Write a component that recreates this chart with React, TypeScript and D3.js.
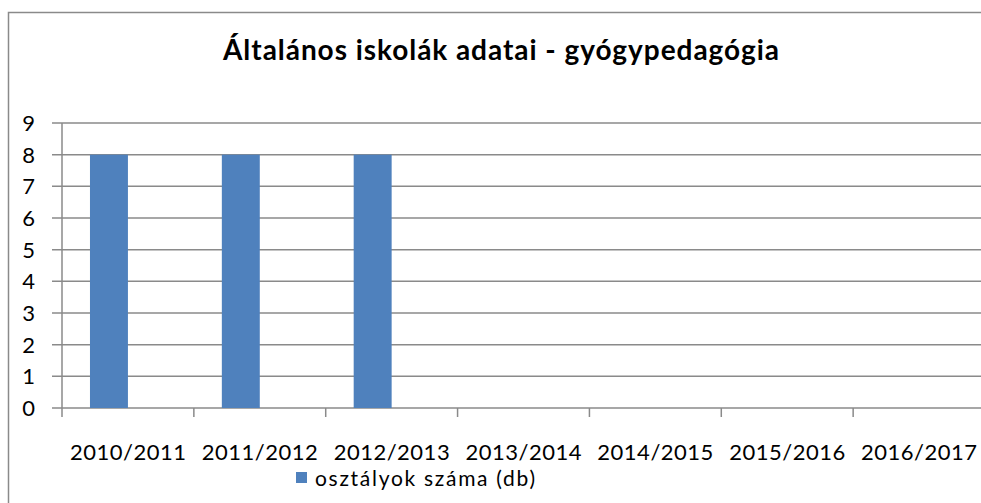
import React from "react";
import * as d3 from "d3";

const title = "Általános iskolák adatai - gyógypedagógia";
const categories = ["2010/2011", "2011/2012", "2012/2013", "2013/2014", "2014/2015", "2015/2016", "2016/2017"];
const seriesName = "osztályok száma (db)";
const seriesValues: (number | null)[] = [8, 8, 8, null, null, null, null];
const slots = ["osztályok", "second"];
const yTicks = [0, 1, 2, 3, 4, 5, 6, 7, 8, 9];

const W = 981;
const H = 503;
const FONT = "Lato, 'Open Sans', sans-serif";

export default function App() {
  const left = 62;
  const right = 985;
  const top = 123;
  const bottom = 408;
  const x0 = d3.scaleBand<string>().domain(categories).range([left, right]).padding(0);
  const x1 = d3.scaleBand<string>().domain(slots).range([0, x0.bandwidth()]).paddingInner(0).paddingOuter(0.737);
  const y = d3.scaleLinear().domain([0, 9]).range([bottom, top]);
  const grid = "#8a8a8a";
  return (
    <svg width={W} height={H} style={{ position: "absolute", left: 0, top: 0, display: "block" }}>
      <rect x={0} y={0} width={W} height={H} fill="#fff" />
      <rect x={8.5} y={12.5} width={1100} height={600} fill="none" stroke={grid} strokeWidth={1.5} />
      <text x={501} y={60} textAnchor="middle" fontFamily={FONT} fontWeight="bold" fontSize={28} fill="#000"
        textLength={556} lengthAdjust="spacing">{title}</text>
      {yTicks.map((t) => (
        <g key={t}>
          <line x1={52} x2={W} y1={y(t)} y2={y(t)} stroke={grid} strokeWidth={1.5} />
          <text x={35} y={y(t) + 8} textAnchor="end" fontFamily={FONT} fontSize={22} fill="#000">{t}</text>
        </g>
      ))}
      <line x1={left} x2={left} y1={top} y2={bottom} stroke={grid} strokeWidth={1.5} />
      {categories.map((c) => (
        <line key={c} x1={x0(c)!} x2={x0(c)!} y1={bottom} y2={bottom + 9} stroke={grid} strokeWidth={1.5} />
      ))}
      {categories.map((c, i) =>
        seriesValues[i] == null ? null : (
          <rect key={c} x={x0(c)! + x1("osztályok")!} y={y(seriesValues[i] as number)}
            width={x1.bandwidth()} height={bottom - y(seriesValues[i] as number)} fill="#4f81bd" />
        )
      )}
      {categories.map((c) => (
        <text key={c} x={x0(c)! + x0.bandwidth() / 2} y={460} textAnchor="middle" fontFamily={FONT}
          fontSize={22} fill="#000" textLength={116} lengthAdjust="spacing">{c}</text>
      ))}
      <rect x={296} y={472} width={11} height={11} fill="#4f81bd" />
      <text x={315} y={486} fontFamily={FONT} fontSize={21} fill="#000" textLength={220} lengthAdjust="spacing">{seriesName}</text>
    </svg>
  );
}
